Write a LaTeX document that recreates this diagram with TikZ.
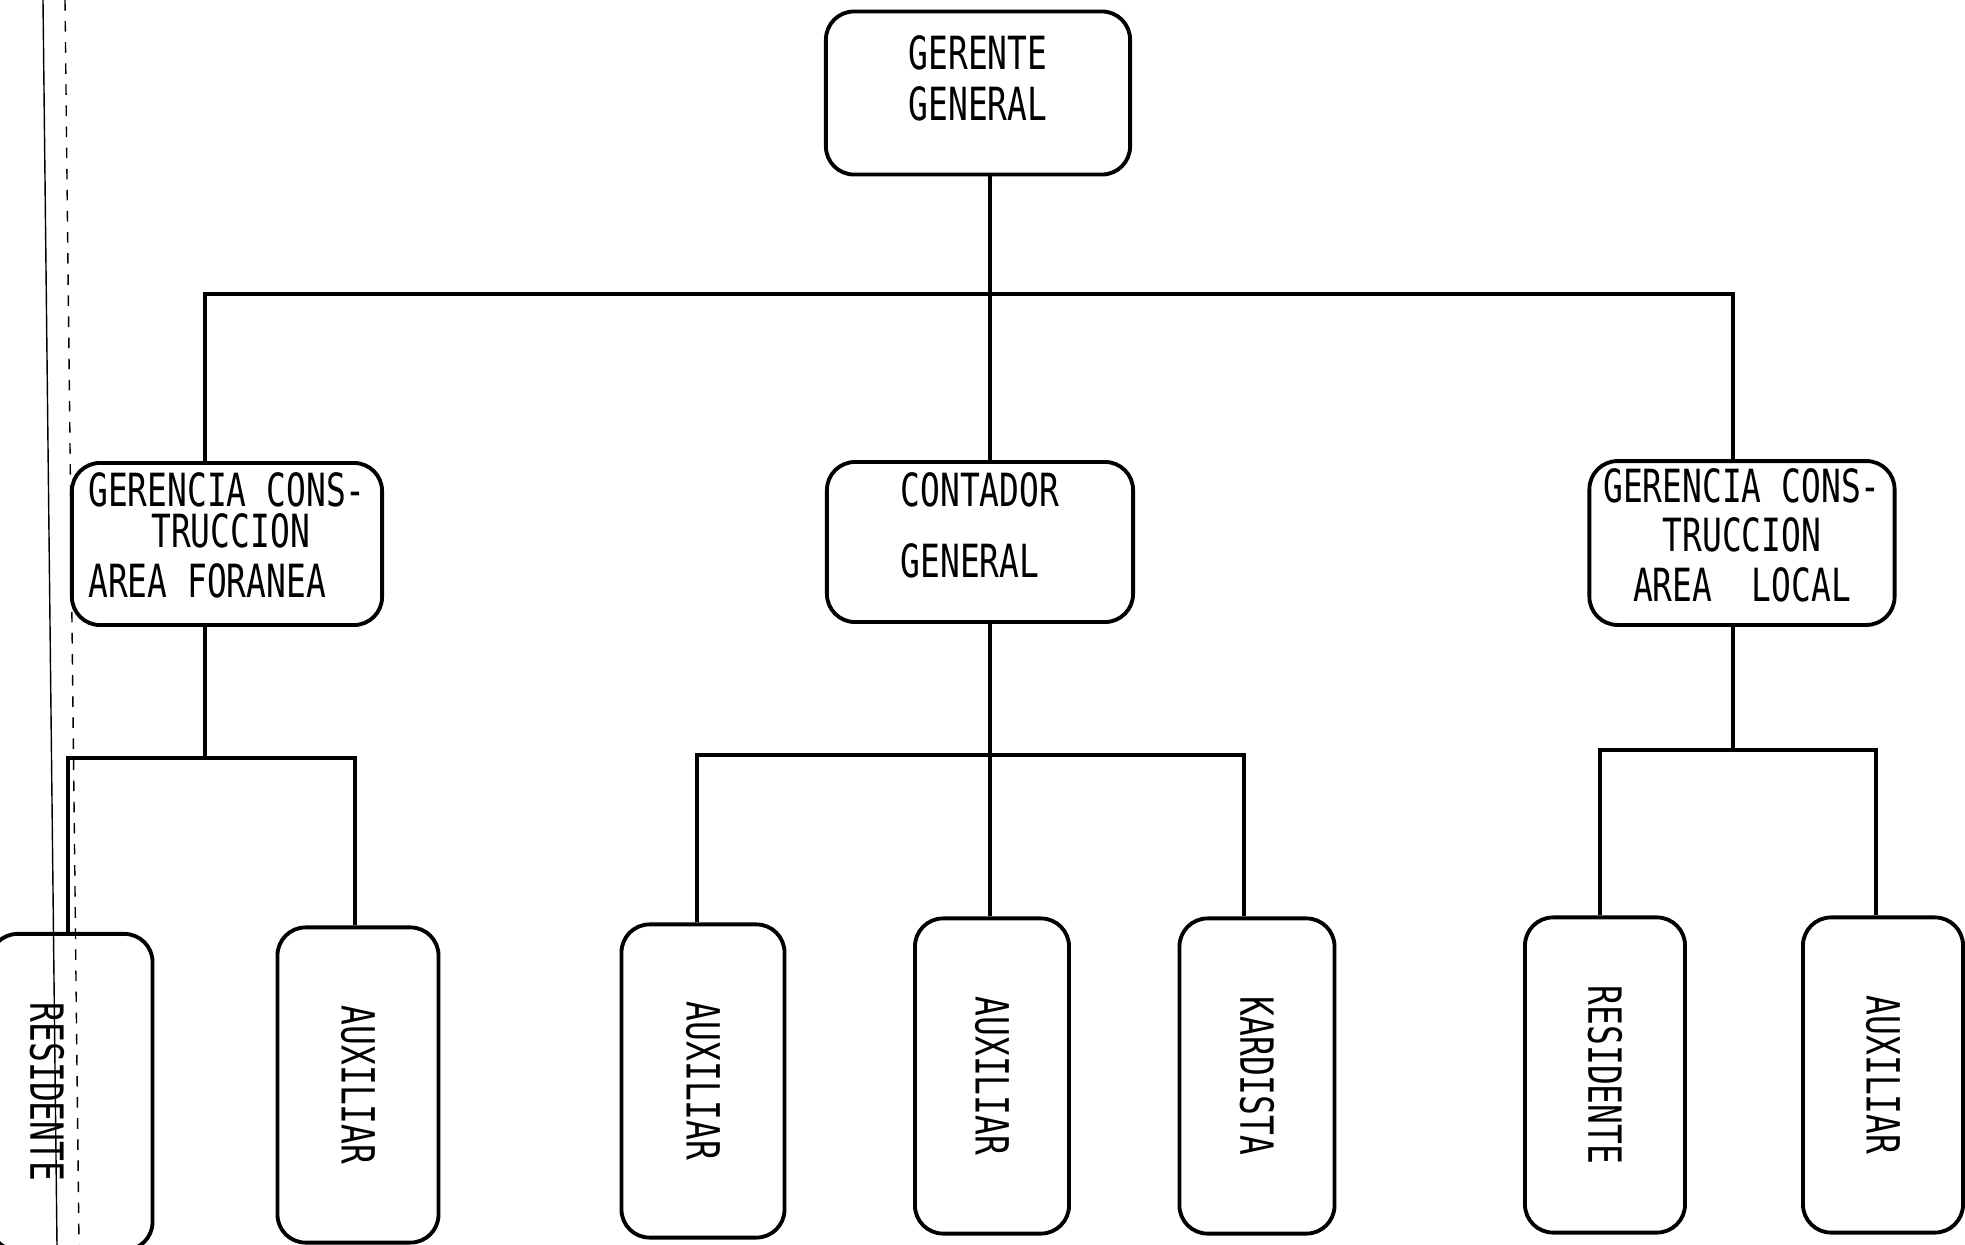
\documentclass[tikz,border=0pt]{standalone}
\usepackage{fontspec}
\setmainfont{DejaVu Sans Mono}[FakeStretch=0.72]
\usepackage{tikz}
\usetikzlibrary{positioning}
\usetikzlibrary{calc}
\tikzset{
  box/.style={draw, rounded corners=8pt, line width=1.1pt, inner sep=2pt},
  bar/.style={line width=.9pt},
  margen/.style={line width=.4pt}
}
\newcommand{\vtxt}[1]{\rotatebox{-90}{#1}}
\newcommand{\lift}[1]{\rule[-#1]{0pt}{0pt}}

\begin{document}
\begin{tikzpicture}[x=0.01cm, y=-0.01cm, font=\fontsize{13}{12.5}\selectfont]
  \useasboundingbox (0,0) rectangle (1965,1245);
  % page margin lines
  \draw[margen] (43,0) -- (57,1245);
  \draw[margen,dashed] (65,0) -- (79,1245);

  % top levels
  \node[box, minimum width=3.04cm, minimum height=1.63cm, align=left] (gg) at (978,93)
    {GERENTE\\[2pt]GENERAL\lift{0.3cm}};
  \node[box, minimum width=3.1cm, minimum height=1.62cm, align=left] (gcf) at (227,544)
    {GERENCIA CONS-\\[-0.8pt]\hspace*{0.63cm}TRUCCION\\[1.5pt]AREA FORANEA\lift{0.18cm}};
  \node[box, minimum width=3.06cm, minimum height=1.6cm, align=left] (cg) at (980,542)
    {CONTADOR\\[7.5pt]GENERAL\lift{0.34cm}};
  \node[box, minimum width=3.05cm, minimum height=1.63cm, align=center] (gcl) at (1742,543)
    {GERENCIA CONS-\\[1.7pt]TRUCCION\\[1.7pt]AREA\ \ LOCAL\lift{0.16cm}};

  % bottom level
  \node[box, minimum width=1.63cm, minimum height=3.16cm] (r1) at (71,1092) {\vtxt{RESIDENTE}\hspace*{0.48cm}};
  \node[box, minimum width=1.61cm, minimum height=3.15cm] (a1) at (358,1085) {\vtxt{AUXILIAR}};
  \node[box, minimum width=1.63cm, minimum height=3.13cm] (a2) at (703,1081) {\vtxt{AUXILIAR}};
  \node[box, minimum width=1.54cm, minimum height=3.15cm] (a3) at (992,1076) {\vtxt{AUXILIAR}};
  \node[box, minimum width=1.55cm, minimum height=3.15cm] (k) at (1257,1076) {\vtxt{KARDISTA}};
  \node[box, minimum width=1.6cm, minimum height=3.15cm] (r2) at (1605,1075) {\vtxt{RESIDENTE}};
  \node[box, minimum width=1.6cm, minimum height=3.15cm] (a4) at (1883,1075) {\vtxt{AUXILIAR}};

  % connectors
  \coordinate (tr) at (990,294);
  \coordinate (busL) at (205,294);
  \coordinate (busR) at (1733,294);
  \draw[bar] (gg.south -| tr) -- (cg.north -| tr);
  \draw[bar] (gcf.north -| busL) -- (busL) -- (busR) -- (gcl.north -| busR);

  \coordinate (fL) at (68,758);
  \coordinate (fR) at (355,758);
  \draw[bar] (gcf.south -| busL) -- (busL |- fL);
  \draw[bar] (r1.north -| fL) -- (fL) -- (fR) -- (a1.north -| fR);

  \coordinate (mL) at (697,755);
  \coordinate (mR) at (1244,755);
  \draw[bar] (cg.south -| tr) -- (a3.north -| tr);
  \draw[bar] (a2.north -| mL) -- (mL) -- (mR) -- (k.north -| mR);

  \coordinate (lL) at (1600,750);
  \coordinate (lR) at (1876,750);
  \draw[bar] (gcl.south -| busR) -- (busR |- lL);
  \draw[bar] (r2.north -| lL) -- (lL) -- (lR) -- (a4.north -| lR);
\end{tikzpicture}
\end{document}
